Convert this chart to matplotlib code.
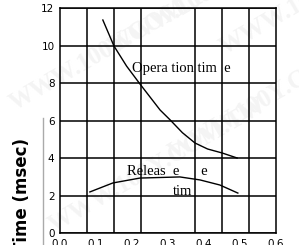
import matplotlib.pyplot as plt
import numpy as np
from matplotlib.lines import Line2D

# data
op_x = [0.119, 0.150, 0.185, 0.222, 0.278, 0.306, 0.340, 0.375, 0.410, 0.450, 0.492]
op_y = [11.36, 9.97, 8.90, 7.95, 6.56, 6.03, 5.35, 4.80, 4.48, 4.27, 4.00]
rel_x = [0.083, 0.147, 0.222, 0.333, 0.389, 0.444, 0.494]
rel_y = [2.19, 2.67, 2.93, 2.99, 2.83, 2.56, 2.13]
xticks = [0.0, 0.1, 0.2, 0.3, 0.4, 0.5, 0.6]
yticks = [0, 2, 4, 6, 8, 10, 12]

fig = plt.figure(figsize=(2.99, 2.45), dpi=100)
ax = fig.add_axes([60/299, 1-233/245, 216/299, 225/245])

# faint watermark behind everything
for (wx, wy) in [(0.02, 0.55), (0.35, 0.78), (0.55, 0.35), (0.15, 0.05), (0.72, 0.78)]:
    fig.text(wx, wy, "WWW.100Y.COM.TW", fontsize=18, fontweight='bold',
             family='Liberation Serif', color='#f4f4f4', rotation=30, zorder=-5)

ax.set_facecolor('none')
ax.plot(op_x, op_y, color='black', lw=1.0)
ax.plot(rel_x, rel_y, color='black', lw=1.0)

ax.set_xlim(0, 0.6)
ax.set_ylim(0, 12)
ax.set_xticks(xticks)
ax.set_xticklabels(["%.1f" % v for v in xticks])
ax.set_yticks(yticks)
ax.set_xticks(np.linspace(0, 0.6, 9), minor=True)
ax.tick_params(length=0, labelsize=7.5, pad=4)
ax.tick_params(which='minor', length=0)
ax.grid(True, which='minor', axis='x', color='black', lw=1.1)
ax.grid(True, which='major', axis='y', color='black', lw=1.1)
for s in ax.spines.values():
    s.set_linewidth(1.1)

ax.text(0.200, 8.75, "Opera tion tim  e", family='Liberation Serif', fontsize=10.5,
        va='center', ha='left')
ax.text(0.186, 3.3, "Releas  e      e", family='Liberation Serif', fontsize=10.5,
        va='center', ha='left')
ax.text(0.314, 2.2, "tim", family='Liberation Serif', fontsize=10.5,
        va='center', ha='left')

fig.text(22/299, 1-195/245, "Time (msec)", rotation=90, fontsize=12,
         fontweight='bold', va='center', ha='center')
fig.add_artist(Line2D([43.5/299, 43.5/299], [0, 1-118/245], color='#aaaaaa', lw=1.0))

fig.savefig("out.png", dpi=100)
